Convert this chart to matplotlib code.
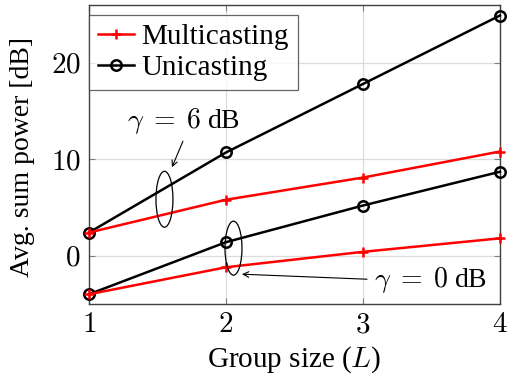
import numpy as np
import matplotlib
matplotlib.use("Agg")
import matplotlib.pyplot as plt
from matplotlib.patches import Ellipse

plt.rcParams['font.family'] = ['Liberation Serif', 'DejaVu Serif']
plt.rcParams['mathtext.fontset'] = 'cm'

# ------------------------------------------------------------
# Data
# ------------------------------------------------------------

group_size = [1, 2, 3, 4]

multi_6dB = [2.4, 5.8, 8.1, 10.8]
uni_6dB = [2.4, 10.7, 17.8, 24.9]

multi_0dB = [-4.0, -1.2, 0.4, 1.8]
uni_0dB = [-4.0, 1.4, 5.2, 8.7]

x_ticks = [1, 2, 3, 4]
y_ticks = [0, 10, 20]

# ------------------------------------------------------------
# Figure
# ------------------------------------------------------------

fig = plt.figure(figsize=(5.07, 3.78), dpi=100)
ax = fig.add_axes([0.1755, 0.196, 0.8105, 0.791])

ax.set_xlim(1, 4)
ax.set_ylim(-5, 26)

ax.grid(True, color='#dcdcdc', linewidth=0.9)
ax.set_axisbelow(True)

# unicasting curves
ax.plot(group_size, uni_6dB, color='black', linewidth=1.8, marker='o',
        markersize=7.5, markerfacecolor='none', markeredgewidth=1.8,
        label='Unicasting', zorder=3, clip_on=False)
ax.plot(group_size, uni_0dB, color='black', linewidth=1.8, marker='o',
        markersize=7.5, markerfacecolor='none', markeredgewidth=1.8,
        zorder=3, clip_on=False)

# multicasting curves
ax.plot(group_size, multi_6dB, color='red', linewidth=1.8, marker='+',
        markersize=7, markeredgewidth=1.8,
        label='Multicasting', zorder=4, clip_on=False)
ax.plot(group_size, multi_0dB, color='red', linewidth=1.8, marker='+',
        markersize=7, markeredgewidth=1.8,
        zorder=4, clip_on=False)

# ellipses grouping the curves
ax.add_patch(Ellipse((1.551, 5.85), 0.124, 5.8, fill=False,
                     edgecolor='black', linewidth=0.9, zorder=5))
ax.add_patch(Ellipse((2.055, 0.78), 0.124, 5.6, fill=False,
                     edgecolor='black', linewidth=0.9, zorder=5))

# annotations
ax.text(1.693, 14.0, r'$\gamma\;=\;6$ dB', ha='center', va='center',
        fontsize=20)
ax.annotate('', xy=(1.606, 9.17), xytext=(1.686, 11.87),
            arrowprops=dict(arrowstyle='->', color='black', linewidth=0.8,
                            shrinkA=0, shrinkB=0))
ax.text(3.496, -2.49, r'$\gamma\;=\;0$ dB', ha='center', va='center',
        fontsize=20)
ax.annotate('', xy=(2.117, -1.92), xytext=(3.03, -2.44),
            arrowprops=dict(arrowstyle='->', color='black', linewidth=0.8,
                            shrinkA=0, shrinkB=0))

# ticks
ax.set_xticks(x_ticks)
ax.set_xticklabels([r'$%d$' % v for v in x_ticks])
ax.set_yticks(y_ticks)
ax.set_yticklabels([r'$%d$' % v for v in y_ticks])
ax.tick_params(direction='in', length=4, color='#808080', labelsize=21,
               pad=6, top=True, right=True)

for s in ax.spines.values():
    s.set_color('#404040')
    s.set_linewidth(1.0)

ax.set_xlabel(r'Group size ($L$)', fontsize=21)
ax.set_ylabel('Avg. sum power [dB]', fontsize=20)
ax.xaxis.set_label_coords(0.5, -0.135)
ax.yaxis.set_label_coords(-0.131, 0.49)

# legend: multicasting first
handles, labels = ax.get_legend_handles_labels()
order = [1, 0]
leg = ax.legend([handles[i] for i in order], [labels[i] for i in order],
                loc='upper left', bbox_to_anchor=(0.0, 0.9666),
                fontsize=21, frameon=True, fancybox=False,
                borderpad=0.3, handlelength=1.25, handletextpad=0.25,
                labelspacing=0.15, borderaxespad=0.0)
leg.get_frame().set_edgecolor('#404040')
leg.get_frame().set_linewidth(0.9)

fig.savefig('out.png', dpi=100)
